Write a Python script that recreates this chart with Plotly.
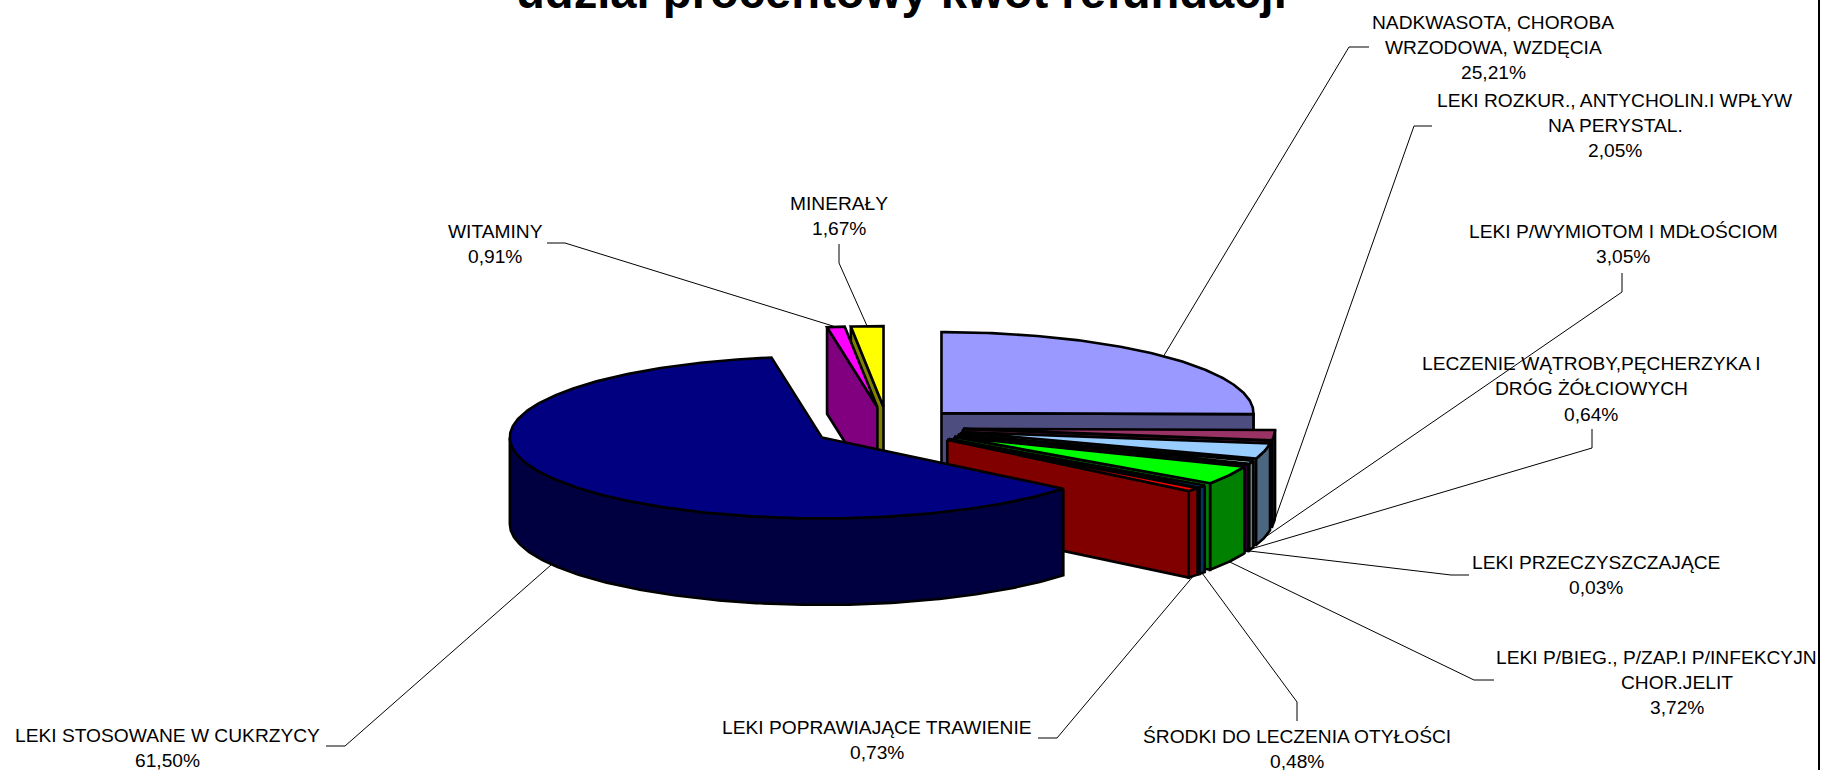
import numpy as np
import plotly.graph_objects as go

# ---------- data ----------
CATEGORIES = [
    ["NADKWASOTA, CHOROBA", "WRZODOWA, WZDĘCIA"],
    ["LEKI ROZKUR., ANTYCHOLIN.I WPŁYW", "NA PERYSTAL."],
    ["LEKI P/WYMIOTOM I MDŁOŚCIOM"],
    ["LECZENIE WĄTROBY,PĘCHERZYKA I", "DRÓG ŻÓŁCIOWYCH"],
    ["LEKI PRZECZYSZCZAJĄCE"],
    ["LEKI P/BIEG., P/ZAP.I P/INFEKCYJN", "CHOR.JELIT"],
    ["ŚRODKI DO LECZENIA OTYŁOŚCI"],
    ["LEKI POPRAWIAJĄCE TRAWIENIE"],
    ["LEKI STOSOWANE W CUKRZYCY"],
    ["WITAMINY"],
    ["MINERAŁY"],
]
VALUES = [25.21, 2.05, 3.05, 0.64, 0.03, 3.72, 0.48, 0.73, 61.50, 0.91, 1.67]
TITLE = "udział procentowy kwot refundacji"

# ---------- styles ----------
TOP_COLORS = ["#9999FF", "#993366", "#99CCFF", "#CCFFFF", "#660066", "#00FF00",
              "#0066CC", "#FF0000", "#000080", "#FF00FF", "#FFFF00"]
SIDE_COLORS = ["#4D4D80", "#4D1A33", "#4D6680", "#668080", "#330033", "#008000",
               "#003366", "#800000", "#000040", "#800080", "#808000"]
DRAW_ORDER = [0, 1, 2, 3, 4, 5, 6, 7, 10, 9, 8]

# ---------- pie geometry (pixels of the page) ----------
W, H = 1822, 770
CX, CY = 887.5, 427.3      # unexploded centre
RX, RY = 312.0, 81.0       # ellipse radii
EXPLODE_X, EXPLODE_Y = 0.243, 0.25
DEPTH = 86.5
FONT = "Liberation Sans, Arial, sans-serif"
LABEL_SIZE = 19.2
TITLE_SIZE = 47.2
FRAME_X = 1819

# leader elbows (layout): points from the slice to the label, and label placement
LEADERS = [
    [(1349, 47), (1369, 47)],
    [(1414, 126), (1432, 126)],
    [(1622, 292), (1622, 273)],
    [(1592, 448), (1592, 429)],
    [(1451, 575), (1469, 575)],
    [(1474, 680), (1494, 680)],
    [(1297, 702), (1297, 721)],
    [(1057, 738), (1038, 738)],
    [(345, 746), (326, 746)],
    [(565, 243), (547, 243)],
    [(839, 263), (839, 244)],
]
LABEL_CX = [1493, 1615, 1623, 1591, 1596, 1677, 1297, 877, 167, 495, 839]
LABEL_TOP = [22, 100, 231, 363.5, 562.5, 657, 736, 727, 735, 231, 203]
LABEL_LINE_CX = {(5, 0): 1656}
LINE_STEP = 25.3

vals = np.array(VALUES)
edges = np.concatenate([[0], np.cumsum(vals)]) / vals.sum() * 2 * np.pi


def arc(c, t0, t1, dy=0.0):
    n = max(2, int(abs(t1 - t0) * 80) + 2)
    t = np.linspace(t0, t1, n)
    return c[0] + RX * np.sin(t), c[1] - RY * np.cos(t) + dy


def centre(i):
    m = (edges[i] + edges[i + 1]) / 2
    return (CX + EXPLODE_X * RX * np.sin(m), CY - EXPLODE_Y * RY * np.cos(m))


fig = go.Figure()


def poly(x, y, fill):
    fig.add_trace(go.Scatter(
        x=np.append(x, x[0]), y=np.append(y, y[0]), mode="lines", fill="toself",
        fillcolor=fill, line=dict(color="#000000", width=2.6),
        hoverinfo="skip", showlegend=False))


# leaders are drawn first so that the slices cover their ends
for i, pts in enumerate(LEADERS):
    m = (edges[i] + edges[i + 1]) / 2
    c = centre(i)
    ax = c[0] + RX * np.sin(m)
    ay = c[1] - RY * np.cos(m) + (DEPTH if np.cos(m) < 0 else 0)
    fig.add_trace(go.Scatter(
        x=[ax] + [p[0] for p in pts], y=[ay] + [p[1] for p in pts], mode="lines",
        line=dict(color="#000000", width=1), hoverinfo="skip", showlegend=False))

# slices, back to front
for i in DRAW_ORDER:
    t0, t1 = edges[i], edges[i + 1]
    c = centre(i)
    # outer wall: only the part of the rim turned to the viewer
    a, b = max(t0, np.pi / 2), min(t1, 1.5 * np.pi)
    if b > a:
        ux, uy = arc(c, a, b)
        lx, ly = arc(c, a, b, DEPTH)
        poly(np.concatenate([ux, lx[::-1]]), np.concatenate([uy, ly[::-1]]), SIDE_COLORS[i])
    # radial walls turned to the viewer
    for t, visible in ((t1, np.sin(t1) > 0), (t0, np.sin(t0) < 0)):
        if visible:
            ex, ey = c[0] + RX * np.sin(t), c[1] - RY * np.cos(t)
            poly(np.array([c[0], ex, ex, c[0]]),
                 np.array([c[1], ey, ey + DEPTH, c[1] + DEPTH]), SIDE_COLORS[i])
    # top face
    ux, uy = arc(c, t0, t1)
    poly(np.concatenate([[c[0]], ux]), np.concatenate([[c[1]], uy]), TOP_COLORS[i])

annotations = [dict(
    x=901, y=0, xref="x", yref="y", text=TITLE, showarrow=False, yanchor="middle",
    yshift=9, font=dict(family=FONT, size=TITLE_SIZE, color="#000000", weight="bold"))]
for i, lines in enumerate(CATEGORIES):
    pct = f"{VALUES[i]:.2f}".replace(".", ",") + "%"
    for k, line in enumerate(lines + [pct]):
        annotations.append(dict(
            x=LABEL_LINE_CX.get((i, k), LABEL_CX[i]), y=LABEL_TOP[i] + k * LINE_STEP,
            xref="x", yref="y", text=line,
            showarrow=False, xanchor="center", yanchor="middle",
            font=dict(family=FONT, size=LABEL_SIZE, color="#000000")))

fig.update_layout(
    width=W, height=H, margin=dict(l=0, r=0, t=0, b=0),
    paper_bgcolor="#FFFFFF", plot_bgcolor="#FFFFFF", annotations=annotations,
    shapes=[dict(type="line", xref="x", yref="y", x0=FRAME_X, x1=FRAME_X, y0=0, y1=H,
                 line=dict(color="#000000", width=2))],
    xaxis=dict(range=[0, W], visible=False, fixedrange=True),
    yaxis=dict(range=[H, 0], visible=False, fixedrange=True),
)
fig.write_html("out.html", post_script="document.body.style.margin='0';document.body.style.overflow='hidden';",
               config={"displayModeBar": False})
